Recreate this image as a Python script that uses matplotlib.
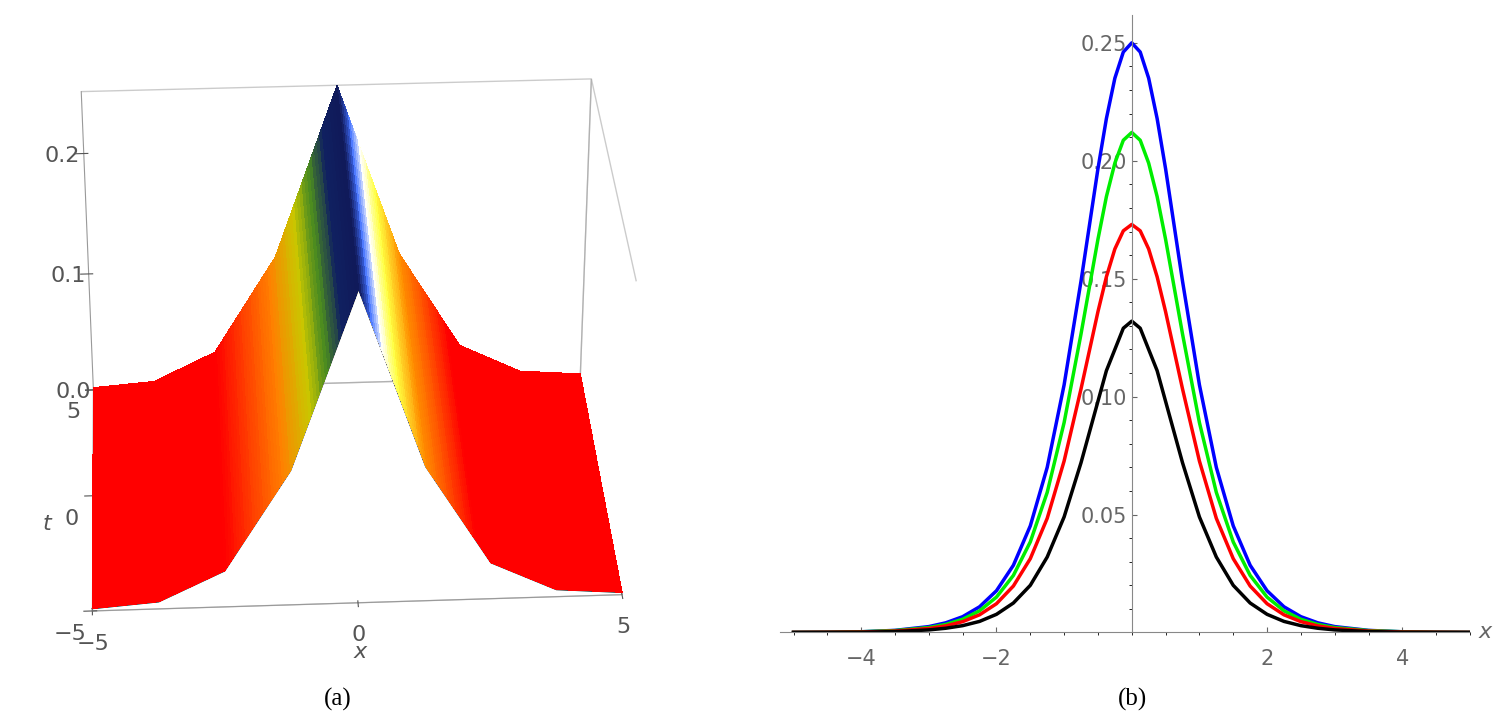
import numpy as np
import matplotlib
matplotlib.use("Agg")
import matplotlib.pyplot as plt
from matplotlib.colors import LinearSegmentedColormap

# ---- data (b): half profiles for x >= 0, mirrored ----
xb_half = [0, .125, .25, .375, .5, .75, 1, 1.25, 1.5, 1.75, 2, 2.25, 2.5, 2.75, 3, 3.5, 4, 4.5, 5]
blue_half = [.25, .2461, .235, .2179, .1966, .149, .105, .070, .0452, .0285, .0177, .0109, .0067, .0041, .0025, .0009, .0003, .0001, .00005]
green_half = [.212, .2087, .199, .1848, .1667, .1266, .089, .0594, .0384, .0242, .0150, .0092, .0056, .0034, .0021, .0008, .0003, .0001, .00004]
red_half = [.173, .1703, .1626, .1508, .136, .1033, .0727, .0484, .0313, .0197, .0122, .0075, .0046, .0028, .0017, .0006, .0002, .0001, .00003]
black_half = [.132, .129, .120, .111, .098, .072, .049, .032, .020, .0125, .0077, .0047, .0029, .0018, .0011, .0004, .0001, .00005, .00002]

# ---- data (a): surface profile along x (constant in t) ----
xa = [-5, -3.75, -2.5, -1.25, 0, 1.25, 2.5, 3.75, 5]
za = [0.002, 0.006, 0.03, 0.11, 0.25, 0.11, 0.03, 0.006, 0.002]

def mirror(h):
    return list(h[::-1]) + list(h[1:])
xb = [-v for v in xb_half[::-1]] + xb_half[1:]

fig = plt.figure(figsize=(15, 7.27), dpi=100)

# ---------- panel (a) ----------
ax = fig.add_axes([-0.04, 0.02, 0.53, 1.0], projection='3d')
xf = np.linspace(-5, 5, 201)
tf = np.linspace(-5, 5, 3)
X, T = np.meshgrid(xf, tf)
Z = np.interp(X, xa, za)
cmap = LinearSegmentedColormap.from_list('g', [
    (0.0, 'red'), (0.25, 'red'), (0.36, '#ff8000'), (0.41, '#c8c800'), (0.44, '#4a8a20'),
    (0.47, '#102060'), (0.50, '#101858'), (0.52, '#4070ff'), (0.54, '#ffffff'),
    (0.57, '#ffff40'), (0.62, '#ff9000'), (0.72, 'red'), (1.0, 'red')])
fc = cmap((X + 5) / 10)
ax.plot_surface(X, T, Z, facecolors=fc, rstride=1, cstride=1, shade=False,
                linewidth=0, antialiased=False)
ax.plot(xa, [-5]*len(xa), za, color='k', lw=1)
ax.set_xlim(-5, 5); ax.set_ylim(-5, 5); ax.set_zlim(0, 0.25)
ax.set_box_aspect((1.3, 1, 0.9))
ax.view_init(elev=32, azim=-93)
for a in (ax.xaxis, ax.yaxis, ax.zaxis):
    a.pane.fill = False
    a.pane.set_edgecolor('#999999')
    a.line.set_color('#999999')
ax.grid(False)
ax.set_xticks([-5, 0, 5]); ax.set_yticks([-5, 0, 5]); ax.set_zticks([0.0, 0.1, 0.2])
ax.set_zticklabels(['0.0', '0.1', '0.2'])
ax.tick_params(labelsize=16, colors='#555555')
ax.set_xlabel('x', fontsize=16, style='italic', color='#555555')
ax.set_ylabel('t', fontsize=16, style='italic', color='#555555')
fig.text(0.225, 0.03, '(a)', fontsize=18, family='Liberation Serif', ha='center')

# ---------- panel (b) ----------
bx = fig.add_axes([0.52, 0.13, 0.46, 0.85])
bx.plot(xb, mirror(blue_half), color='#0000ff', lw=2.5)
bx.plot(xb, mirror(green_half), color='#00ee00', lw=2.5)
bx.plot(xb, mirror(red_half), color='#ff0000', lw=2.5)
bx.plot(xb, mirror(black_half), color='k', lw=2.5)
bx.set_xlim(-5.2, 5)
bx.set_ylim(0, 0.262)
bx.spines['left'].set_position(('data', 0))
bx.spines['bottom'].set_position(('data', 0))
for s in ('top', 'right'):
    bx.spines[s].set_visible(False)
for s in ('left', 'bottom'):
    bx.spines[s].set_color('#888888')
bx.set_xticks([-4, -2, 2, 4])
bx.set_xticks(np.arange(-5, 5.01, 0.5), minor=True)
bx.set_yticks([0.05, 0.10, 0.15, 0.20, 0.25])
bx.set_yticklabels(['0.05', '0.10', '0.15', '0.20', '0.25'])
bx.set_yticks(np.arange(0.01, 0.26, 0.01), minor=True)
bx.tick_params(labelsize=15, colors='#666666', direction='in')
bx.tick_params(axis='x', pad=12)
bx.text(5.12, 0, 'x', fontsize=16, style='italic', color='#666666', va='center')
fig.text(0.755, 0.03, '(b)', fontsize=18, family='Liberation Serif', ha='center')

fig.savefig('out.png', dpi=100)
